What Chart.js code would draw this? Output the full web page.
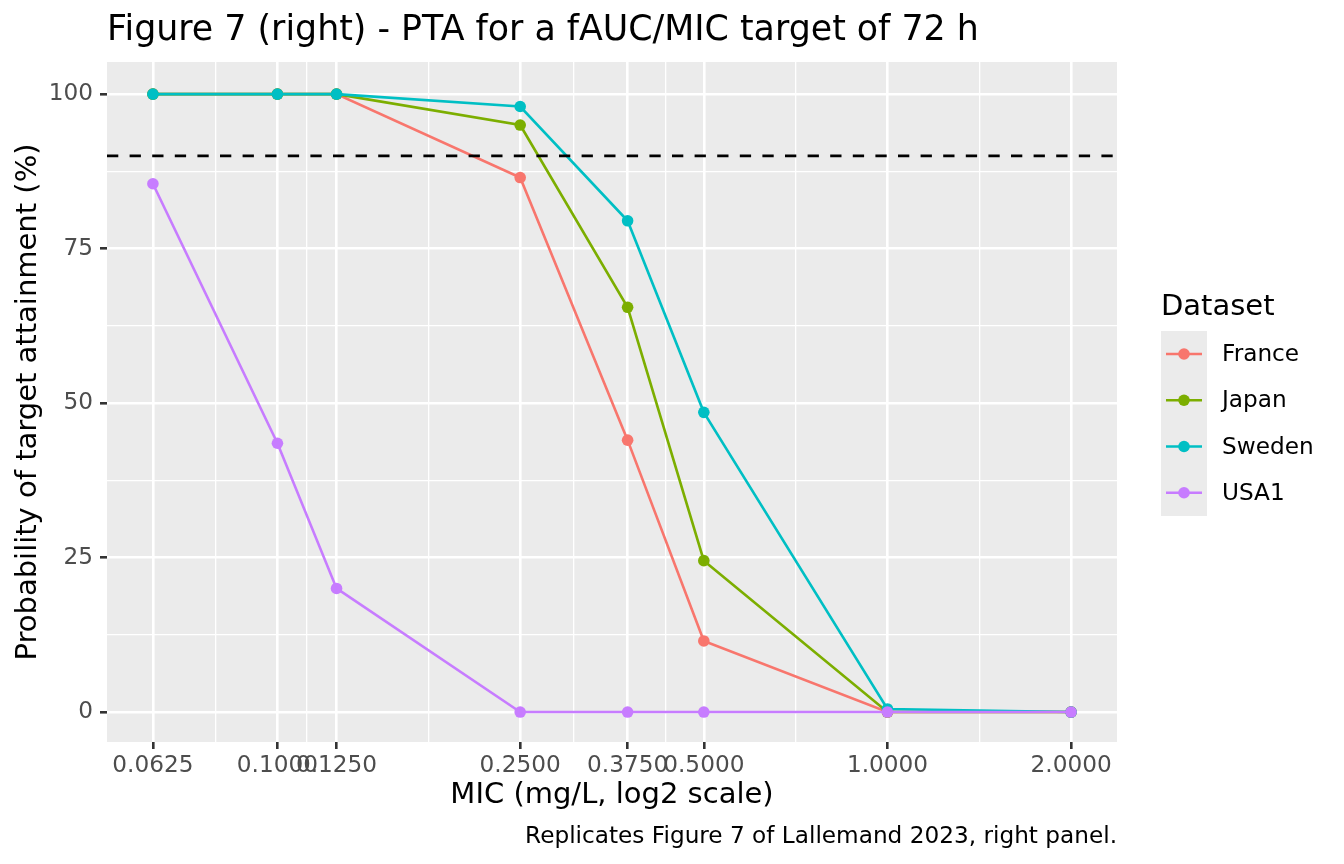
<!DOCTYPE html>
<html>
<head>
<meta charset="utf-8">
<script src="https://cdn.jsdelivr.net/npm/chart.js@4/dist/chart.umd.min.js"></script>
<style>
  html, body { margin: 0; padding: 0; background: #fff; }
  canvas { display: block; }
</style>
</head>
<body>
<canvas id="ptaChart" width="1344" height="864"></canvas>
<script>
  // MIC values (mg/L) and PTA (%) per dataset
  const micValues = [0.0625, 0.1, 0.125, 0.25, 0.375, 0.5, 1, 2];
  const datasetNames = ['France', 'Japan', 'Sweden', 'USA1'];
  const france = [100, 100, 100, 86.5, 44, 11.5, 0, 0];
  const japan = [100, 100, 100, 95, 65.5, 24.5, 0, 0];
  const sweden = [100, 100, 100, 98, 79.5, 48.5, 0.5, 0];
  const usa1 = [85.5, 43.5, 20, 0, 0, 0, 0, 0];
  const yTicks = [0, 25, 50, 75, 100];
  const targetPTA = 90;

  const seriesValues = [france, japan, sweden, usa1];
  const colors = ['#F8766D', '#7CAE00', '#00BFC4', '#C77CFF'];
  const FONT = "'DejaVu Sans', sans-serif";
  const LW = 2.6;

  // minor breaks halfway between majors (in log space), like ggplot
  const xMinor = [];
  for (let i = 0; i < micValues.length - 1; i++) {
      xMinor.push(Math.sqrt(micValues[i] * micValues[i + 1]));
  }
  const yMinor = [];
  for (let i = 0; i < yTicks.length - 1; i++) {
      yMinor.push((yTicks[i] + yTicks[i + 1]) / 2);
  }

  // last dataset drawn on top, as in ggplot
  const datasets = seriesValues.map((vals, i) => ({
      label: datasetNames[i],
      data: micValues.map((m, j) => ({ x: m, y: vals[j] })),
      order: seriesValues.length - i,
      borderColor: colors[i],
      backgroundColor: colors[i],
      borderWidth: LW,
      pointRadius: 5.8,
      pointHoverRadius: 5.8,
      pointBorderWidth: 0,
      showLine: true,
      tension: 0
  }));

  const isMajor = (ctx, list) => ctx.tick && list.includes(ctx.tick.value);

  // Fond gris du panneau + ligne pointillée + textes
  const ggPlugin = {
      id: 'gg',
      beforeDraw(chart) {
          const a = chart.chartArea;
          const c = chart.ctx;
          c.save();
          c.fillStyle = '#EBEBEB';
          c.fillRect(a.left, a.top, a.right - a.left, a.bottom - a.top);
          c.restore();
      },
      afterDatasetsDraw(chart) {
          const a = chart.chartArea;
          const c = chart.ctx;
          const y = chart.scales.y.getPixelForValue(targetPTA);
          c.save();
          c.strokeStyle = '#000';
          c.lineWidth = LW;
          c.setLineDash([11.3, 11.3]);
          c.beginPath();
          c.moveTo(a.left, y);
          c.lineTo(a.right, y);
          c.stroke();
          c.restore();
      },
      afterDraw(chart) {
          const a = chart.chartArea;
          const c = chart.ctx;
          c.save();
          // title
          c.fillStyle = '#000';
          c.font = '34.8px ' + FONT;
          c.textAlign = 'left';
          c.textBaseline = 'alphabetic';
          c.fillText('Figure 7 (right) - PTA for a fAUC/MIC target of 72 h', a.left, 40);
          // caption, right-aligned on the panel
          c.font = '23.2px ' + FONT;
          c.textAlign = 'right';
          c.fillText('Replicates Figure 7 of Lallemand 2023, right panel.', a.right, 843);
          // legend
          c.textAlign = 'left';
          c.font = '29px ' + FONT;
          c.fillText('Dataset', 1161, 315);
          c.fillStyle = '#EBEBEB';
          c.fillRect(1161, 331, 46, 185);
          c.textBaseline = 'middle';
          datasetNames.forEach((name, i) => {
              const cy = 331 + 23 + i * 46.25;
              c.strokeStyle = colors[i];
              c.lineWidth = LW;
              c.beginPath();
              c.moveTo(1166, cy);
              c.lineTo(1202, cy);
              c.stroke();
              c.fillStyle = colors[i];
              c.beginPath();
              c.arc(1184, cy, 5.8, 0, Math.PI * 2);
              c.fill();
              c.fillStyle = '#000';
              c.font = '23.2px ' + FONT;
              c.fillText(name, 1222, cy + 1);
          });
          c.restore();
      }
  };

  new Chart(document.getElementById('ptaChart'), {
      type: 'scatter',
      data: { datasets: datasets },
      options: {
          responsive: false,
          animation: false,
          devicePixelRatio: 1,
          layout: { padding: { top: 62, right: 227, bottom: 47, left: 0 } },
          plugins: {
              legend: { display: false },
              tooltip: { enabled: false }
          },
          scales: {
              x: {
                  type: 'logarithmic',
                  min: Math.pow(2, -4.25),
                  max: Math.pow(2, 1.25),
                  afterBuildTicks(scale) {
                      scale.ticks = micValues.concat(xMinor).map(v => ({ value: v }));
                  },
                  afterFit(scale) { scale.height = 75; },
                  border: { display: false },
                  grid: {
                      color: '#FFFFFF',
                      lineWidth: ctx => isMajor(ctx, micValues) ? LW : LW / 2,
                      tickColor: ctx => isMajor(ctx, micValues) ? '#333333' : 'rgba(0,0,0,0)',
                      tickLength: 7,
                      tickWidth: LW
                  },
                  ticks: {
                      autoSkip: false,
                      maxRotation: 0,
                      minRotation: 0,
                      padding: 3,
                      color: '#4D4D4D',
                      font: { family: FONT, size: 23.2 },
                      callback: v => micValues.includes(v) ? v.toFixed(4) : ''
                  },
                  title: {
                      display: true,
                      text: 'MIC (mg/L, log2 scale)',
                      color: '#000',
                      font: { family: FONT, size: 29 },
                      padding: { top: 0, bottom: 4 }
                  }
              },
              y: {
                  min: -4.85,
                  max: 105.2,
                  afterBuildTicks(scale) {
                      scale.ticks = yTicks.concat(yMinor).map(v => ({ value: v }));
                  },
                  afterFit(scale) { scale.width = 107; },
                  border: { display: false },
                  grid: {
                      color: '#FFFFFF',
                      lineWidth: ctx => isMajor(ctx, yTicks) ? LW : LW / 2,
                      tickColor: ctx => isMajor(ctx, yTicks) ? '#333333' : 'rgba(0,0,0,0)',
                      tickLength: 7,
                      tickWidth: LW
                  },
                  ticks: {
                      padding: 7,
                      color: '#4D4D4D',
                      font: { family: FONT, size: 23.2 },
                      callback: v => yTicks.includes(v) ? String(v) : ''
                  },
                  title: {
                      display: true,
                      text: 'Probability of target attainment (%)',
                      color: '#000',
                      font: { family: FONT, size: 29 },
                      padding: { top: 11, bottom: 0 }
                  }
              }
          }
      },
      plugins: [ggPlugin]
  });
</script>
</body>
</html>
